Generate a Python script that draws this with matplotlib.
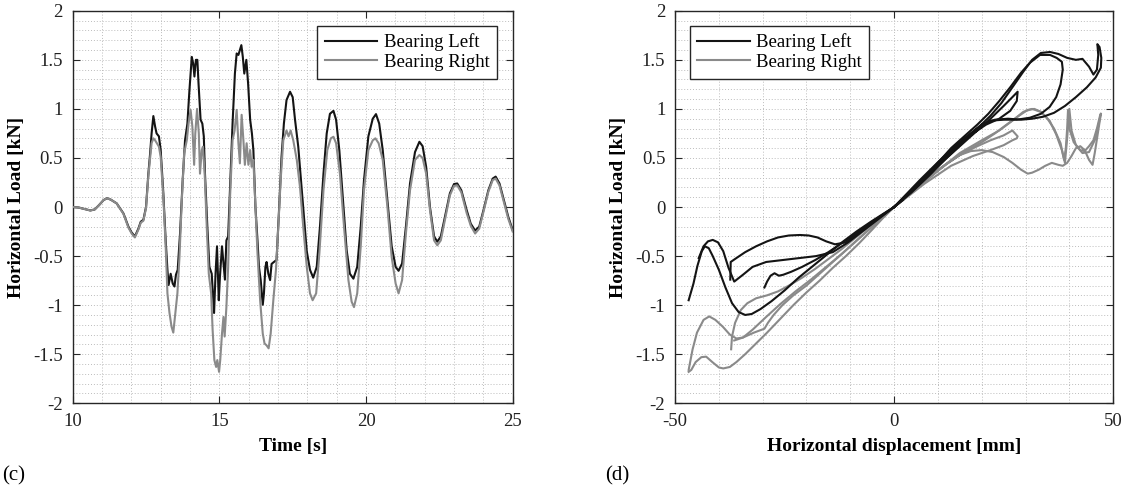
import numpy as np
import matplotlib
matplotlib.use("Agg")
import matplotlib.pyplot as plt
from matplotlib.ticker import MultipleLocator

plt.rcParams['font.family'] = ['Liberation Serif', 'DejaVu Serif']
plt.rcParams['axes.unicode_minus'] = False

# ---------------- (c) load time histories ----------------
time_left = [10.0, 10.2, 10.4, 10.6, 10.75, 10.9, 11.05, 11.17, 11.3, 11.5, 11.73, 11.9, 12.01, 12.12,
             12.24, 12.32, 12.41, 12.5, 12.58, 12.64, 12.69, 12.75, 12.81, 12.86, 12.94, 13.0, 13.09,
             13.17, 13.23, 13.27, 13.34, 13.41, 13.47, 13.52, 13.58, 13.66, 13.75, 13.83, 13.91, 13.98,
             14.06, 14.11, 14.15, 14.2, 14.25, 14.29, 14.36, 14.42, 14.47, 14.51, 14.59, 14.66, 14.74,
             14.82, 14.87, 14.92, 14.98, 15.02, 15.09, 15.15, 15.19, 15.24, 15.3, 15.36, 15.45, 15.53,
             15.59, 15.65, 15.7, 15.75, 15.8, 15.85, 15.92, 15.98, 16.05, 16.11, 16.16, 16.23, 16.3,
             16.35, 16.41, 16.48, 16.52, 16.57, 16.61, 16.67, 16.73, 16.78, 16.86, 16.95, 17.04, 17.12,
             17.2, 17.29, 17.41, 17.5, 17.58, 17.69, 17.81, 17.98, 18.09, 18.2, 18.32, 18.43, 18.55,
             18.66, 18.77, 18.89, 18.98, 19.09, 19.23, 19.34, 19.45, 19.57, 19.7, 19.82, 19.93, 20.08,
             20.23, 20.34, 20.45, 20.57, 20.73, 20.875, 21.01, 21.11, 21.23, 21.36, 21.5, 21.67, 21.82,
             21.93, 22.05, 22.18, 22.32, 22.43, 22.55, 22.69, 22.86, 23.0, 23.11, 23.25, 23.43, 23.57,
             23.72, 23.86, 24.02, 24.17, 24.32, 24.42, 24.55, 24.7, 24.85, 25.0]
load_left = [0.0, -0.005, -0.02, -0.035, -0.025, 0.02, 0.07, 0.09, 0.075, 0.037, -0.065, -0.2, -0.26, -0.3,
             -0.22, -0.15, -0.13, 0.0, 0.34, 0.547, 0.75, 0.927, 0.82, 0.75, 0.72, 0.58, 0.14,
             -0.34, -0.64, -0.795, -0.68, -0.78, -0.81, -0.69, -0.64, -0.27, 0.275, 0.68, 0.85, 1.19,
             1.53, 1.46, 1.33, 1.5, 1.5, 1.26, 0.89, 0.85, 0.72, 0.34, -0.2, -0.61, -0.68,
             -1.08, -0.68, -0.4, -0.95, -0.71, -0.4, -0.61, -0.74, -0.34, -0.3, 0.17, 0.85, 1.36,
             1.565, 1.55, 1.6, 1.65, 1.53, 1.36, 1.5, 1.26, 0.89, 0.75, 0.58, 0.0, -0.34,
             -0.61, -0.745, -0.996, -0.88, -0.61, -0.56, -0.68, -0.745, -0.58, -0.56, -0.54, 0.0, 0.51,
             0.85, 1.09, 1.175, 1.12, 0.89, 0.615, 0.17, -0.45, -0.64, -0.72, -0.61, -0.2, 0.34,
             0.75, 0.95, 0.98, 0.89, 0.58, 0.0, -0.44, -0.68, -0.73, -0.61, -0.2, 0.27, 0.72,
             0.9, 0.947, 0.85, 0.58, 0.07, -0.4, -0.61, -0.65, -0.575, -0.2, 0.24, 0.56, 0.665,
             0.62, 0.41, 0.0, -0.3, -0.353, -0.3, -0.1, 0.14, 0.234, 0.24, 0.17, -0.03, -0.17,
             -0.24, -0.2, -0.014, 0.17, 0.29, 0.31, 0.24, 0.07, -0.1, -0.235]

time_right = [10.0, 10.2, 10.4, 10.6, 10.75, 10.9, 11.05, 11.17, 11.3, 11.5, 11.73, 11.9, 12.01, 12.12,
              12.24, 12.32, 12.41, 12.5, 12.58, 12.64, 12.69, 12.75, 12.81, 12.94, 13.0, 13.09, 13.17,
              13.23, 13.3, 13.37, 13.43, 13.5, 13.57, 13.64, 13.72, 13.8, 13.89, 13.95, 14.02, 14.08,
              14.14, 14.18, 14.24, 14.3, 14.34, 14.4, 14.44, 14.5, 14.57, 14.64, 14.72, 14.77, 14.83,
              14.89, 14.93, 14.99, 15.03, 15.09, 15.14, 15.18, 15.24, 15.3, 15.36, 15.45, 15.52, 15.59,
              15.65, 15.7, 15.76, 15.82, 15.87, 15.93, 15.99, 16.05, 16.1, 16.16, 16.23, 16.3, 16.39,
              16.48, 16.54, 16.61, 16.68, 16.75, 16.84, 16.93, 17.01, 17.09, 17.18, 17.29, 17.36, 17.43,
              17.52, 17.64, 17.75, 17.86, 17.98, 18.09, 18.18, 18.3, 18.41, 18.55, 18.68, 18.8, 18.89,
              18.98, 19.11, 19.25, 19.4, 19.51, 19.59, 19.7, 19.82, 19.93, 20.08, 20.23, 20.32, 20.43,
              20.57, 20.73, 20.875, 21.01, 21.11, 21.23, 21.36, 21.5, 21.67, 21.82, 21.93, 22.05, 22.18,
              22.32, 22.43, 22.55, 22.69, 22.86, 23.0, 23.11, 23.25, 23.43, 23.57, 23.72, 23.86, 24.02,
              24.17, 24.32, 24.42, 24.55, 24.7, 24.85, 25.0]
load_right = [0.0, -0.005, -0.02, -0.035, -0.025, 0.02, 0.07, 0.09, 0.075, 0.037, -0.07, -0.21, -0.27, -0.31,
              -0.23, -0.16, -0.14, -0.01, 0.32, 0.5, 0.65, 0.7, 0.68, 0.615, 0.51, 0.1, -0.4,
              -0.88, -1.08, -1.22, -1.28, -1.08, -0.88, -0.51, 0.07, 0.547, 0.68, 0.85, 0.99, 0.82,
              0.43, 0.75, 1.0, 0.75, 0.34, 0.58, 0.615, 0.34, -0.2, -0.68, -0.88, -1.25, -1.56,
              -1.63, -1.56, -1.68, -1.56, -1.29, -1.12, -1.32, -1.02, -0.61, 0.07, 0.68, 0.78, 0.99,
              0.65, 0.445, 0.94, 0.68, 0.43, 0.65, 0.43, 0.58, 0.41, 0.48, 0.0, -0.47, -0.95,
              -1.29, -1.39, -1.41, -1.44, -1.29, -0.95, -0.64, -0.2, 0.275, 0.68, 0.78, 0.72, 0.78,
              0.68, 0.48, 0.2, -0.2, -0.61, -0.88, -0.95, -0.88, -0.47, 0.17, 0.58, 0.7, 0.716,
              0.65, 0.34, -0.2, -0.745, -0.965, -1.02, -0.88, -0.4, 0.17, 0.58, 0.68, 0.7, 0.65,
              0.48, 0.0, -0.51, -0.78, -0.88, -0.745, -0.27, 0.17, 0.48, 0.53, 0.5, 0.34, -0.03,
              -0.34, -0.39, -0.34, -0.13, 0.12, 0.215, 0.22, 0.15, -0.06, -0.19, -0.27, -0.22, -0.03,
              0.155, 0.275, 0.29, 0.22, 0.05, -0.12, -0.25]

# ---------------- (d) load-displacement loops ----------------
# Bearing Left
disp_left_1 = [-46.9, -45.8, -44.9, -43.9, -43.2, -42.3, -41.4, -40.0, -38.5, -37.0, -35.5, -34.0, -32.5,
               -30.5, -28.0, -25.0, -21.8, -18.5, -15.2, -11.9, -8.6, -5.3, -2.5, 0.0]
load_left_1 = [-0.95, -0.78, -0.6, -0.45, -0.4, -0.42, -0.5, -0.64, -0.82, -0.98, -1.07, -1.1, -1.09,
               -1.04, -0.96, -0.85, -0.72, -0.6, -0.48, -0.36, -0.25, -0.15, -0.07, 0.0]
disp_left_2 = [-44.6, -43.5, -42.5, -41.4, -40.2, -39.0, -37.8, -36.5, -34.5, -32.3, -29.2, -25.4, -21.6,
               -17.8, -14.0, -10.5, -7.0, -3.5, 0.0]
load_left_2 = [-0.52, -0.4, -0.35, -0.335, -0.36, -0.45, -0.62, -0.76, -0.69, -0.61, -0.56, -0.54, -0.52,
               -0.5, -0.46, -0.36, -0.24, -0.12, 0.0]
disp_left_3 = [-37.4, -37.3, -36.0, -34.0, -31.5, -29.0, -26.5, -24.0, -21.5, -19.5, -17.5, -15.5, -13.5,
               -11.0, -8.0, -4.5, -1.0, 2.0]
load_left_3 = [-0.74, -0.56, -0.52, -0.46, -0.4, -0.35, -0.31, -0.29, -0.285, -0.29, -0.31, -0.35, -0.38,
               -0.36, -0.26, -0.14, -0.03, 0.07]
disp_left_4 = [-29.6, -29.0, -28.2, -27.3, -26.3, -25.3, -23.5, -21.0, -18.0, -15.0, -12.0, -9.0, -6.0,
               -3.0, 0.0]
load_left_4 = [-0.82, -0.76, -0.7, -0.675, -0.7, -0.69, -0.66, -0.61, -0.54, -0.46, -0.37, -0.28, -0.18,
               -0.09, 0.0]
disp_left_5 = [0.0, 3.0, 6.0, 10.0, 13.0, 16.0, 19.0, 21.5, 24.0, 26.5, 29.0, 31.0, 33.3, 35.6, 37.1,
               38.3, 38.5, 38.0, 37.0, 35.5, 33.5, 31.0, 28.0, 25.0, 22.0, 19.0, 15.0, 10.0, 5.0, 0.0]
load_left_5 = [0.0, 0.12, 0.25, 0.45, 0.6, 0.72, 0.84, 0.95, 1.08, 1.22, 1.37, 1.47, 1.55, 1.55, 1.52,
               1.48, 1.4, 1.25, 1.12, 1.02, 0.95, 0.91, 0.89, 0.89, 0.88, 0.8, 0.65, 0.45, 0.22, 0.0]
disp_left_6 = [0.0, 4.0, 8.0, 12.0, 16.0, 19.0, 22.0, 24.5, 27.0, 29.5, 31.5, 33.5, 35.6, 37.5, 39.5,
               41.5, 43.0, 44.5, 45.5, 46.3, 46.6, 46.4, 46.9, 47.3, 47.2, 46.0, 44.0, 41.5, 39.0, 36.5,
               34.0, 31.5, 29.0, 26.0, 23.0, 20.0, 16.0, 11.0, 6.0, 0.0]
load_left_6 = [0.0, 0.15, 0.32, 0.5, 0.67, 0.8, 0.93, 1.06, 1.22, 1.38, 1.5, 1.57, 1.58, 1.56, 1.52,
               1.5, 1.51, 1.43, 1.35, 1.4, 1.55, 1.66, 1.63, 1.52, 1.42, 1.32, 1.22, 1.12, 1.03, 0.96,
               0.92, 0.9, 0.89, 0.9, 0.89, 0.84, 0.7, 0.5, 0.28, 0.0]
disp_left_7 = [0.0, 5.0, 10.0, 15.0, 19.0, 22.0, 25.0, 27.0, 28.2, 28.0, 26.5, 24.0, 21.0, 17.0, 12.0,
               6.0, 0.0]
load_left_7 = [0.0, 0.2, 0.42, 0.62, 0.78, 0.9, 1.03, 1.12, 1.175, 1.08, 0.98, 0.9, 0.84, 0.72, 0.52,
               0.26, 0.0]

# Bearing Right
disp_right_1 = [-46.9, -46.3, -45.3, -44.0, -42.9, -41.5, -40.0, -39.0, -37.5, -36.0, -34.0, -31.5, -29.0,
                -26.0, -23.0, -20.0, -17.0, -14.0, -11.0, -8.0, -5.0, -2.5, 0.0]
load_right_1 = [-1.68, -1.66, -1.58, -1.53, -1.525, -1.58, -1.635, -1.645, -1.63, -1.58, -1.5, -1.39, -1.28,
                -1.14, -1.0, -0.87, -0.75, -0.62, -0.5, -0.37, -0.23, -0.11, 0.0]
disp_right_2 = [-46.9, -46.0, -45.0, -43.5, -42.2, -40.8, -39.1, -37.5, -36.0, -34.5, -32.3, -29.2, -26.0,
                -22.5, -19.0, -15.5, -12.0, -8.5, -5.0, -2.0, 0.5]
load_right_2 = [-1.66, -1.45, -1.28, -1.15, -1.115, -1.15, -1.22, -1.3, -1.34, -1.33, -1.25, -1.12, -0.99,
                -0.86, -0.74, -0.61, -0.48, -0.34, -0.2, -0.08, 0.02]
disp_right_3 = [-37.2, -37.0, -36.3, -35.0, -33.5, -31.5, -29.0, -26.5, -24.0, -21.0, -18.0, -15.0, -12.0,
                -9.0, -6.0, -3.0, 0.0]
load_right_3 = [-1.45, -1.32, -1.18, -1.05, -0.98, -0.93, -0.9, -0.86, -0.8, -0.72, -0.63, -0.53, -0.43,
                -0.32, -0.21, -0.1, 0.0]
disp_right_4 = [-36.5, -34.5, -32.0, -29.6, -28.8, -27.5, -25.5, -23.0, -20.0, -17.0, -14.0, -11.0, -8.0,
                -5.0, -2.0, 0.5]
load_right_4 = [-1.36, -1.33, -1.28, -1.24, -1.18, -1.1, -1.0, -0.9, -0.8, -0.68, -0.56, -0.44, -0.32,
                -0.2, -0.08, 0.02]
disp_right_5 = [0.0, 4.0, 8.0, 12.0, 16.0, 20.0, 23.0, 26.0, 28.5, 30.5, 32.0, 33.5, 35.0, 36.5, 38.0,
                38.8, 39.2, 39.5, 39.7, 40.0, 41.0, 42.5, 43.5, 44.5, 45.5, 46.3, 47.0, 47.2, 46.5, 45.8,
                45.3, 44.5, 43.5, 42.5, 41.5, 40.5, 39.5, 38.5, 37.5, 36.0, 34.5, 33.0, 31.5, 30.5, 29.0,
                27.0, 25.0, 22.5, 20.0, 17.5, 15.0, 12.0, 8.0, 4.0, 0.0]
load_right_5 = [0.0, 0.15, 0.3, 0.44, 0.56, 0.66, 0.75, 0.85, 0.93, 0.99, 1.0, 0.97, 0.9, 0.8, 0.65,
                0.48, 0.6, 0.8, 0.99, 0.8, 0.66, 0.58, 0.57, 0.62, 0.68, 0.8, 0.93, 0.95, 0.75, 0.55,
                0.43, 0.48, 0.58, 0.62, 0.6, 0.52, 0.45, 0.42, 0.43, 0.45, 0.42, 0.38, 0.35, 0.34, 0.38,
                0.45, 0.51, 0.56, 0.58, 0.57, 0.53, 0.44, 0.3, 0.15, 0.0]
disp_right_6 = [0.0, 5.0, 10.0, 15.0, 20.0, 24.0, 27.0, 29.5, 31.5, 33.5, 35.5, 37.0, 38.3, 39.0, 39.5,
                40.0, 40.5, 41.5, 43.0, 44.5, 46.0, 47.2]
load_right_6 = [0.0, 0.18, 0.37, 0.55, 0.68, 0.78, 0.88, 0.97, 1.0, 0.97, 0.88, 0.74, 0.58, 0.45, 0.7,
                1.0, 0.78, 0.63, 0.55, 0.56, 0.7, 0.95]
disp_right_7 = [0.0, 5.0, 10.0, 15.0, 19.0, 22.0, 25.0, 27.0, 28.2, 28.0, 27.0, 25.0, 22.0, 18.0, 13.0,
                7.0, 0.0]
load_right_7 = [0.0, 0.19, 0.38, 0.53, 0.62, 0.68, 0.73, 0.78, 0.72, 0.7, 0.68, 0.63, 0.58, 0.52, 0.42,
                0.24, 0.0]

left_loops = [(disp_left_1, load_left_1), (disp_left_2, load_left_2), (disp_left_3, load_left_3),
              (disp_left_4, load_left_4), (disp_left_5, load_left_5), (disp_left_6, load_left_6),
              (disp_left_7, load_left_7)]
right_loops = [(disp_right_1, load_right_1), (disp_right_2, load_right_2), (disp_right_3, load_right_3),
               (disp_right_4, load_right_4), (disp_right_5, load_right_5), (disp_right_6, load_right_6),
               (disp_right_7, load_right_7)]

series_labels = ["Bearing Left", "Bearing Right"]
y_ticks = [-2, -1.5, -1, -0.5, 0, 0.5, 1, 1.5, 2]
y_ticklabels = ["-2", "-1.5", "-1", "-0.5", "0", "0.5", "1", "1.5", "2"]

BLACK = "#141414"
GRAY = "#8a8a8a"
AXC = "#262626"
FS = 13.5
LW = 1.5

fig = plt.figure(figsize=(11.27, 4.90), dpi=100)
ax1 = fig.add_axes([0.0645, 0.177, 0.3904, 0.801])
ax2 = fig.add_axes([0.599, 0.177, 0.3887, 0.801])


def style(ax, xmajor, xminor):
    ax.set_ylim(-2, 2)
    ax.set_yticks(y_ticks)
    ax.set_yticklabels(y_ticklabels)
    ax.xaxis.set_major_locator(MultipleLocator(xmajor))
    ax.xaxis.set_minor_locator(MultipleLocator(xminor))
    ax.yaxis.set_minor_locator(MultipleLocator(0.1))
    ax.grid(which="both", color="#bdbdbd", linestyle=(0, (1, 2)), linewidth=0.7)
    ax.set_axisbelow(True)
    ax.tick_params(which="major", direction="in", length=5, width=0.8, color=AXC,
                   top=True, right=True, labelsize=FS, pad=7, labelcolor="#222222")
    ax.tick_params(which="minor", length=0)
    for s in ax.spines.values():
        s.set_color(AXC)
        s.set_linewidth(1.0)


# (c)
ax1.plot(time_left, load_left, color=BLACK, lw=LW, label=series_labels[0], zorder=3)
ax1.plot(time_right, load_right, color=GRAY, lw=LW, label=series_labels[1], zorder=4)
ax1.set_xlim(10, 25)
style(ax1, 5, 1)
ax1.set_xticks([10, 15, 20, 25])
ax1.set_xlabel("Time [s]", fontsize=FS + 0.5, fontweight="bold", labelpad=6)
ax1.set_ylabel("Horizontal Load [kN]", fontsize=FS + 0.5, fontweight="bold", labelpad=6)
ax1.legend(loc="upper right", bbox_to_anchor=(0.965, 0.962), borderaxespad=0, fontsize=FS,
           handlelength=2.8, handletextpad=0.35, labelspacing=0.15, borderpad=0.4,
           fancybox=False, framealpha=1, edgecolor=AXC).get_frame().set_linewidth(1.0)

# (d)
for i, (d, l) in enumerate(left_loops):
    ax2.plot(d, l, color=BLACK, lw=LW, zorder=3, label=series_labels[0] if i == 0 else None)
for i, (d, l) in enumerate(right_loops):
    ax2.plot(d, l, color=GRAY, lw=LW, zorder=2, label=series_labels[1] if i == 0 else None)
ax2.set_xlim(-50, 50)
style(ax2, 50, 10)
ax2.set_xticks([-50, 0, 50])
ax2.set_xlabel("Horizontal displacement [mm]", fontsize=FS + 0.5, fontweight="bold", labelpad=6)
ax2.set_ylabel("Horizontal Load [kN]", fontsize=FS + 0.5, fontweight="bold", labelpad=6)
ax2.legend(loc="upper left", bbox_to_anchor=(0.033, 0.962), borderaxespad=0, fontsize=FS,
           handlelength=2.8, handletextpad=0.35, labelspacing=0.15, borderpad=0.4,
           fancybox=False, framealpha=1, edgecolor=AXC).get_frame().set_linewidth(1.0)

fig.text(2 / 1127, 1 - 476 / 490, "(c)", fontsize=FS + 1.5, va="center", ha="left")
fig.text(617 / 1127, 1 - 476 / 490, "(d)", fontsize=FS + 1.5, va="center", ha="center")

fig.savefig("out.png", dpi=100)
